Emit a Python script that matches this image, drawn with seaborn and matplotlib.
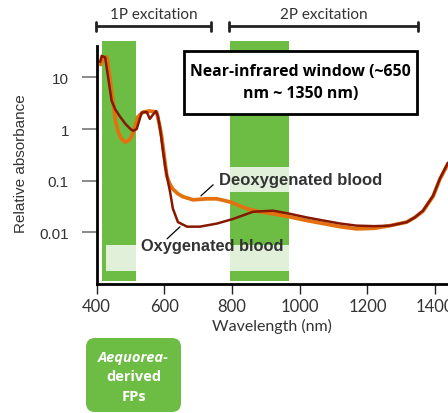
import matplotlib
matplotlib.use("Agg")
import matplotlib.pyplot as plt
from matplotlib.patches import Rectangle, FancyBboxPatch
import matplotlib.transforms as mtransforms
import seaborn as sns
import pandas as pd

# Absorption spectra of blood (relative absorbance, log scale)
wl_oxy = [410, 415, 425, 435, 444, 455, 469, 485, 500, 508, 518, 533, 548, 557,
          566, 575, 581, 588, 595, 602, 610, 617, 625, 640, 667, 705, 755, 803,
          862, 921, 971, 1020, 1069, 1120, 1168, 1220, 1267, 1316, 1340, 1364,
          1394, 1414, 1438]
abs_oxy = [20.0, 26.3, 24.5, 8.9, 3.55, 2.4, 1.74, 1.26, 1.0, 0.93, 1.0, 2.09,
           2.14, 1.58, 1.9, 2.24, 1.78, 0.95, 0.42, 0.195, 0.1, 0.060, 0.029,
           0.0158, 0.0129, 0.0129, 0.0148, 0.0182, 0.0251, 0.0263, 0.0229,
           0.0195, 0.0170, 0.0148, 0.0135, 0.0132, 0.0135, 0.0158, 0.0195,
           0.0263, 0.0513, 0.110, 0.224]

wl_deoxy = [412, 418, 430, 440, 448, 456, 463, 472, 484, 494, 503, 512, 522, 537,
            555, 568, 577, 585, 592, 600, 607, 615, 625, 640, 655, 685, 725, 755,
            794, 843, 882, 921, 970, 1020, 1070, 1119, 1168, 1220, 1267, 1316,
            1340, 1364, 1394, 1414, 1438]
abs_deoxy = [17.8, 22.4, 25.1, 8.9, 3.55, 1.41, 0.91, 0.66, 0.56, 0.60, 0.71,
             1.05, 1.74, 2.14, 2.24, 2.19, 2.14, 1.26, 0.71, 0.28, 0.126, 0.089,
             0.069, 0.056, 0.049, 0.0427, 0.0447, 0.0447, 0.0389, 0.0288, 0.0251,
             0.0229, 0.0200, 0.0170, 0.0148, 0.0129, 0.0117, 0.0120, 0.0135,
             0.0158, 0.0195, 0.0257, 0.050, 0.107, 0.214]

x_ticks = [400, 600, 800, 1000, 1200, 1400]
y_ticks = [0.01, 0.1, 1, 10]
y_tick_labels = ["0.01", "0.1", "1", "10"]

# Excitation bands of Aequorea-derived FPs (1P and 2P)
band_ranges = [(415, 516), (794, 968)]
nir_window = (658, 1345)
bracket_1p = (398, 738)
bracket_2p = (791, 1350)

GREEN = "#6dbd44"
ORANGE = "#e4700f"
DARKRED = "#861800"
TEXT = "#333333"

sns.set_style("ticks")
plt.rcParams["font.family"] = ["Lato", "DejaVu Sans"]

fig = plt.figure(figsize=(4.48, 4.14), dpi=100)
ax = fig.add_axes([96.7 / 448, 129 / 414, (448 - 96.7) / 448, 242.6 / 414])

df_deoxy = pd.DataFrame({"wl": wl_deoxy, "a": abs_deoxy})
df_oxy = pd.DataFrame({"wl": wl_oxy, "a": abs_oxy})

for lo, hi in band_ranges:
    ax.add_patch(Rectangle((lo, 0.00115), hi - lo, 50 - 0.00115,
                           facecolor=GREEN, edgecolor="none", zorder=0))

# pale label backgrounds
ax.add_patch(Rectangle((785, 0.061), 320, 0.186 - 0.061,
                       facecolor="white", alpha=0.8, edgecolor="none", zorder=1))
ax.add_patch(Rectangle((428, 0.00175), 560, 0.0057 - 0.00175,
                       facecolor="white", alpha=0.8, edgecolor="none", zorder=1))

sns.lineplot(data=df_deoxy, x="wl", y="a", ax=ax, color=ORANGE, lw=2.7,
             sort=False, zorder=3)
sns.lineplot(data=df_oxy, x="wl", y="a", ax=ax, color=DARKRED, lw=1.8,
             sort=False, zorder=4)

ax.set_yscale("log")
ax.set_xlim(400, 1438)
ax.set_ylim(0.001, 50)
ax.set_xticks(x_ticks)
ax.set_yticks(y_ticks)
ax.set_yticklabels(y_tick_labels)
ax.minorticks_off()
ax.set_xlabel("Wavelength (nm)", fontsize=11.5, color=TEXT, labelpad=3)
ax.set_ylabel("Relative absorbance", fontsize=11, color=TEXT, labelpad=8,
              family=["Liberation Sans"])
for lab in ax.get_yticklabels():
    lab.set_family(["Liberation Sans"])
ax.tick_params(axis="x", direction="out", length=7, width=1, color="#222222",
               labelsize=12, labelcolor=TEXT, pad=3)
ax.tick_params(axis="y", direction="out", length=11, width=1.2, color="#777777",
               labelsize=11, labelcolor=TEXT, pad=9)
for side in ("top", "right"):
    ax.spines[side].set_visible(False)
for side in ("left", "bottom"):
    ax.spines[side].set_linewidth(2)
    ax.spines[side].set_color("black")
ax.spines["left"].set_bounds(0.001, 40)

# near-infrared window box
ax.add_patch(Rectangle((nir_window[0], 1.97), nir_window[1] - nir_window[0],
                       33 - 1.97, facecolor="white", edgecolor="black",
                       lw=2, zorder=5))
ax.text((nir_window[0] + nir_window[1]) / 2, 8.2,
        "Near-infrared window (~650\nnm ~ 1350 nm)", ha="center", va="center",
        fontsize=11.4, fontweight="bold", color="black", linespacing=1.55,
        family=["Open Sans", "DejaVu Sans"], zorder=6)

# curve labels with leaders
ax.plot([708, 744], [0.051, 0.0834], color="black", lw=0.9, zorder=5)
ax.text(761, 0.104, "Deoxygenated blood", ha="left", va="center",
        fontsize=12, fontweight="bold", color=TEXT,
        family=["Liberation Sans"], zorder=6)
ax.plot([608, 646], [0.00752, 0.0128], color="black", lw=0.9, zorder=5)
ax.text(531, 0.00558, "Oxygenated blood", ha="left", va="center",
        fontsize=11.8, fontweight="bold", color=TEXT,
        family=["Liberation Sans"], zorder=6)

# excitation brackets above the axes
trans = mtransforms.blended_transform_factory(ax.transData, ax.transAxes)
for (lo, hi), label in ((bracket_1p, "1P excitation"), (bracket_2p, "2P excitation")):
    yb = 1.062
    ax.plot([lo, hi], [yb, yb], transform=trans, color="#222222", lw=2,
            clip_on=False, solid_capstyle="butt")
    for xe in (lo, hi):
        ax.plot([xe, xe], [yb - 0.018, yb + 0.018], transform=trans,
                color="#222222", lw=2, clip_on=False)
    ax.text((lo + hi) / 2, 1.115, label, transform=trans, ha="center",
            va="center", fontsize=11, color=TEXT)

# FP label box below
box = FancyBboxPatch((0.86, 0.01), 0.95, 0.74,
                     boxstyle="round,pad=0,rounding_size=0.09",
                     transform=fig.dpi_scale_trans, facecolor=GREEN,
                     edgecolor="none")
fig.patches.append(box)
fig.text(1.335, 0.563, "Aequorea-", transform=fig.dpi_scale_trans,
         ha="center", va="center", color="white", fontsize=10.5,
         fontweight="bold", fontstyle="italic", family=["Open Sans"])
fig.text(1.335, 0.37, "derived", transform=fig.dpi_scale_trans,
         ha="center", va="center", color="white", fontsize=10.5,
         fontweight="bold", family=["Open Sans"])
fig.text(1.335, 0.173, "FPs", transform=fig.dpi_scale_trans,
         ha="center", va="center", color="white", fontsize=10.5,
         fontweight="bold", family=["Open Sans"])

fig.savefig("out.png", dpi=100)
